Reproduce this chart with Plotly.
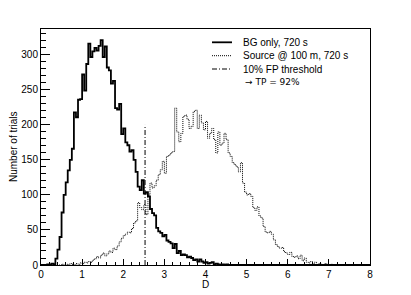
import plotly.graph_objects as go

# ---- data ----
d_lo = 0.0
bin_width = 0.05
n_bins = 160

bg_counts = [0, 0, 0, 1, 0, 2, 1, 9, 22, 40,
             75, 100, 118, 135, 150, 166, 218, 211, 236, 237,
             272, 249, 287, 316, 297, 305, 310, 306, 313, 321,
             297, 312, 282, 278, 259, 263, 224, 222, 230, 187,
             195, 175, 171, 162, 164, 150, 133, 112, 107, 121,
             102, 104, 98, 80, 74, 71, 53, 48, 46, 41,
             43, 35, 33, 31, 24, 30, 17, 20, 14, 15,
             14, 11, 12, 10, 7, 8, 5, 8, 5, 3,
             4, 2, 3, 4, 1, 2, 1, 0, 1, 0,
             1] + [0] * 69

src_counts = [0] * 10 + [1, 0, 1, 0, 2, 1, 0, 2, 1, 3,
              2, 4, 3, 5, 4, 7, 9, 12, 10, 14,
              17, 13, 16, 20, 18, 24, 22, 27, 33, 38,
              42, 44, 47, 46, 52, 60, 63, 89, 82, 79,
              86, 72, 100, 117, 110, 113, 121, 129, 136, 148,
              131, 155, 157, 160, 162, 224, 190, 176, 188, 212,
              214, 208, 195, 198, 219, 221, 195, 214, 203, 193,
              205, 181, 188, 195, 179, 160, 190, 171, 174, 188,
              179, 160, 155, 146, 143, 140, 133, 146, 117, 104,
              100, 102, 98, 82, 78, 83, 70, 67, 55, 47,
              46, 48, 44, 36, 29, 26, 24, 25, 19, 17,
              15, 18, 12, 11, 13, 9, 14, 6, 10, 4,
              3, 5, 2, 4, 1, 2, 1, 0, 2, 1,
              0, 1] + [0] * 18

threshold_d = 2.53
threshold_h = 200

x_ticks = [0, 1, 2, 3, 4, 5, 6, 7, 8]
y_ticks = [0, 50, 100, 150, 200, 250, 300]

legend_labels = ["BG only, 720 s", "Source @ 100 m, 720 s", "10% FP threshold", "\u2192 TP = 92%"]

# ---- build ----
edges = [d_lo + bin_width * i for i in range(n_bins + 1)]


def step_xy(counts):
    return edges, list(counts) + [counts[-1]]


fig = go.Figure()
sx, sy = step_xy(src_counts)
fig.add_trace(go.Scatter(x=sx, y=sy, mode="lines", line_shape="hv",
                         line=dict(color="#000000", width=1, dash="1px,1px"),
                         showlegend=False, hoverinfo="skip"))
bx, by = step_xy(bg_counts)
fig.add_trace(go.Scatter(x=bx, y=by, mode="lines", line_shape="hv",
                         line=dict(color="#000000", width=1.8),
                         showlegend=False, hoverinfo="skip"))
fig.add_trace(go.Scatter(x=[threshold_d, threshold_d], y=[0, threshold_h], mode="lines",
                         line=dict(color="#000000", width=1, dash="5px,2px,1px,2px"),
                         showlegend=False, hoverinfo="skip"))

font_family = "Liberation Sans, Arial, Helvetica, sans-serif"

# manual legend (ROOT style, no border)
leg_rows = [0.9436, 0.8869, 0.8305, 0.7767]
leg_styles = [dict(color="#000000", width=1.8),
              dict(color="#000000", width=1, dash="1px,1px"),
              dict(color="#000000", width=1, dash="5px,2px,1px,2px")]
shapes = []
for yy, st in zip(leg_rows[:3], leg_styles):
    shapes.append(dict(type="line", xref="paper", yref="paper",
                       x0=0.5198, x1=0.5805, y0=yy, y1=yy, line=st))
annotations = []
for i, (yy, txt) in enumerate(zip(leg_rows, legend_labels)):
    fam = "DejaVu Sans, sans-serif" if i == 3 else font_family
    annotations.append(dict(xref="paper", yref="paper", x=0.6079 + (0.006 if i == 3 else 0),
                            y=yy, text=txt, showarrow=False, xanchor="left", yanchor="middle",
                            font=dict(size=10 if i < 3 else 9, color="#000000", family=fam)))
# axis titles
annotations.append(dict(xref="paper", yref="paper", x=0.5, y=0, yshift=-12, text="D",
                        showarrow=False, xanchor="center", yanchor="top",
                        font=dict(size=10, color="#000000", family=font_family)))
annotations.append(dict(xref="paper", yref="paper", x=0, y=0.5, xshift=-28, text="Number of trials",
                        textangle=-90, showarrow=False, xanchor="center", yanchor="middle",
                        font=dict(size=10, color="#000000", family=font_family)))

# page body has an 8px margin: shrink the figure so the plot frame lands where the reference has it
fig.update_layout(
    width=403, height=287,
    margin=dict(l=33, r=41, t=21, b=30),
    paper_bgcolor="white", plot_bgcolor="white",
    font=dict(family=font_family, size=10, color="#000000"),
    shapes=shapes, annotations=annotations,
    showlegend=False,
)
fig.update_xaxes(range=[0, 8], tickvals=x_ticks, ticktext=[str(v) for v in x_ticks],
                 ticks="inside", ticklen=6, tickwidth=1, tickcolor="#000000",
                 minor=dict(ticks="inside", ticklen=3, dtick=0.2, tickcolor="#000000", showgrid=False),
                 showline=True, linecolor="#000000", linewidth=1, mirror=True,
                 showgrid=False, zeroline=False, tickfont=dict(size=10), automargin=False)
fig.update_yaxes(range=[0, 337], tickvals=y_ticks, ticktext=[str(v) for v in y_ticks],
                 ticks="inside", ticklen=9, tickwidth=1, tickcolor="#000000",
                 minor=dict(ticks="inside", ticklen=5, dtick=10, tickcolor="#000000", showgrid=False),
                 showline=True, linecolor="#000000", linewidth=1, mirror=True,
                 showgrid=False, zeroline=False, tickfont=dict(size=10), automargin=False)

fig.write_html("out.html")
